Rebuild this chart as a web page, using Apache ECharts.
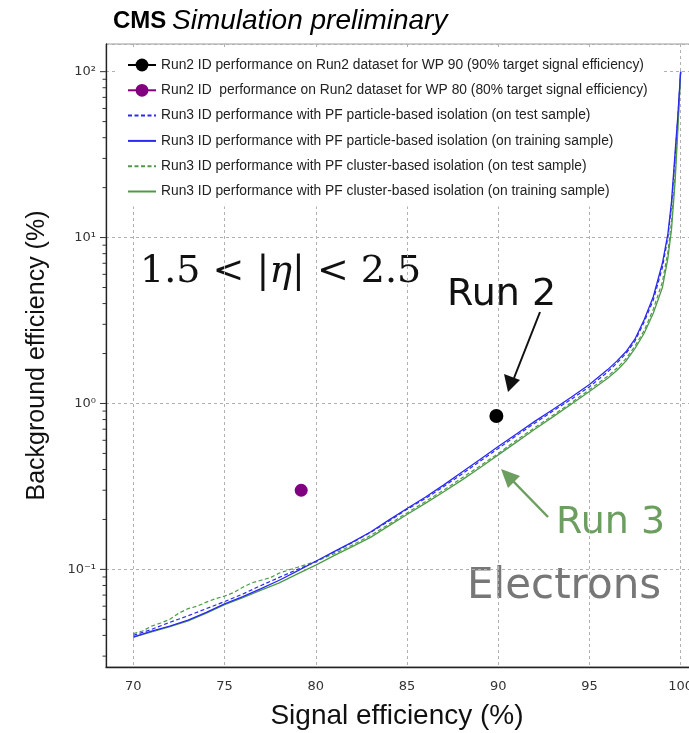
<!DOCTYPE html>
<html>
<head>
<meta charset="utf-8">
<script src="https://cdn.jsdelivr.net/npm/echarts@6/dist/echarts.min.js"></script>
<style>
  html, body { margin: 0; padding: 0; background: #fff; }
  #chart { width: 689px; height: 733px; }
</style>
</head>
<body>
<div id="chart"></div>
<script>
// Signal efficiency (%) sample points shared by the Run3 ROC curves
const sigEff = [70, 71, 72, 73, 74, 75, 76, 77, 78, 79, 80, 81, 82, 83, 84, 85, 86, 87, 88, 89, 90,
  91, 92, 93, 94, 95, 96, 96.5, 97, 97.5, 98, 98.5, 99, 99.3, 99.5, 99.7, 99.85, 100];

// Background efficiency (%) for each Run3 curve
const bkgParticleTraining = [0.039, 0.0425, 0.0455, 0.0495, 0.055, 0.062, 0.0685, 0.0765, 0.086, 0.098, 0.112,
  0.128, 0.146, 0.168, 0.198, 0.233, 0.272, 0.322, 0.385, 0.46, 0.55,
  0.655, 0.78, 0.92, 1.09, 1.30, 1.60, 1.80, 2.05, 2.45, 3.2, 4.4, 7.0, 10.5, 16.5, 33, 55, 100];
const bkgParticleTest = [0.040, 0.0435, 0.048, 0.0525, 0.058, 0.064, 0.071, 0.080, 0.0895, 0.100, 0.111,
  0.127, 0.145, 0.167, 0.195, 0.230, 0.267, 0.315, 0.375, 0.448, 0.535,
  0.64, 0.76, 0.90, 1.06, 1.26, 1.55, 1.75, 2.0, 2.38, 3.1, 4.2, 6.6, 10, 15.5, 31, 53, 100];
const bkgClusterTraining = [0.039, 0.042, 0.0452, 0.049, 0.0545, 0.0612, 0.0675, 0.075, 0.083, 0.094, 0.106,
  0.121, 0.137, 0.156, 0.183, 0.214, 0.250, 0.293, 0.345, 0.41, 0.49,
  0.585, 0.70, 0.83, 0.99, 1.18, 1.42, 1.58, 1.80, 2.15, 2.65, 3.5, 5.0, 7.5, 11.2, 22, 45, 100];

// The cluster-based test curve is sampled more finely at low efficiency
const sigEffClusterTest = [70, 70.5, 71, 71.5, 72, 72.5, 73, 73.5, 74, 74.5, 75, 75.5, 76, 76.5, 77, 77.5, 78, 78.5, 79, 79.5,
  80, 81, 82, 83, 84, 85, 86, 87, 88, 89, 90, 91, 92, 93, 94, 95, 96, 96.5, 97, 97.5, 98, 98.5, 99, 99.3, 99.5, 99.7, 99.85, 100];
const bkgClusterTest = [0.041, 0.0425, 0.0455, 0.0475, 0.050, 0.0545, 0.058, 0.060, 0.0635, 0.0665, 0.069, 0.0725, 0.078, 0.083, 0.086, 0.089, 0.095, 0.099, 0.103, 0.107,
  0.112, 0.124, 0.140, 0.160, 0.187, 0.219, 0.256, 0.300, 0.355, 0.42, 0.50, 0.60, 0.715, 0.85, 1.01, 1.21, 1.46, 1.63, 1.86, 2.22, 2.75, 3.7, 5.4, 8.2, 12.5, 25, 48, 100];

// Run2 working points: [signal efficiency, background efficiency]
const run2WP90 = [89.9, 0.84];
const run2WP80 = [79.2, 0.30];

// Legend labels
const labelWP90 = 'Run2 ID performance on Run2 dataset for WP 90 (90% target signal efficiency)';
const labelWP80 = 'Run2 ID  performance on Run2 dataset for WP 80 (80% target signal efficiency)';
const labelPartTest = 'Run3 ID performance with PF particle-based isolation (on test sample)';
const labelPartTrain = 'Run3 ID performance with PF particle-based isolation (on training sample)';
const labelClusTest = 'Run3 ID performance with PF cluster-based isolation (on test sample)';
const labelClusTrain = 'Run3 ID performance with PF cluster-based isolation (on training sample)';

// Axis ranges
const xMin = 68.5, xMax = 101.5;
const yMin = 0.0258, yMax = 146.8;

const BLUE = '#2a2af0';
const GREEN = '#4f9a48';
const RUN3_TEXT = '#6b9e5f';

function zip(xs, ys) { return xs.map((x, i) => [x, ys[i]]); }

const SUP = { '-': '\u207B', '0': '\u2070', '1': '\u00B9', '2': '\u00B2', '3': '\u00B3' };
function powerLabel(v) {
  const l = Math.log10(v);
  const e = Math.round(l);
  if (Math.abs(l - e) > 1e-6) return '';
  return '10' + String(e).split('').map(c => SUP[c]).join('');
}

// Tick marks on the log axis: decades (long) and 2..9 subdivisions (short)
const yTickMarks = [];
for (let k = -2; k <= 2; k++) {
  for (let m = 1; m <= 9; m++) {
    const v = m * Math.pow(10, k);
    if (v >= yMin && v <= yMax) yTickMarks.push([xMin, v, m === 1 ? 6 : 3.5]);
  }
}

const chart = echarts.init(document.getElementById('chart'), null, { renderer: 'canvas' });

const lineOnlyLegend = { opacity: 0, borderWidth: 0 };

const option = {
  animation: false,
  backgroundColor: '#fff',
  grid: {
    left: 106, top: 44, width: 602, height: 623,
    containLabel: false, outerBoundsMode: 'none',
    show: true, borderColor: '#9a9a9a', borderWidth: 1, backgroundColor: 'transparent'
  },
  xAxis: {
    type: 'value', min: xMin, max: xMax, splitNumber: 7,
    axisLine: { show: true, lineStyle: { color: '#222', width: 1.3 } },
    axisTick: { show: false },
    axisLabel: {
      margin: 13, fontSize: 13, fontFamily: 'DejaVu Sans', color: '#333',
      showMinLabel: false, showMaxLabel: false,
      formatter: v => (Math.abs(v % 5) < 1e-9 ? String(v) : '')
    },
    splitLine: { show: true, lineStyle: { color: '#b0b0b0', type: [3, 3], width: 1 } },
    name: 'Signal efficiency (%)', nameLocation: 'middle', nameGap: 35,
    nameTextStyle: { fontSize: 28, fontFamily: 'Liberation Sans', color: '#111', padding: [0, 20, 0, 0] }
  },
  yAxis: {
    type: 'log', logBase: 10, min: yMin, max: yMax,
    axisLine: { show: true, lineStyle: { color: '#222', width: 1.3 } },
    axisTick: { show: false },
    minorTick: { show: false },
    axisLabel: {
      margin: 10, fontSize: 13, fontFamily: 'DejaVu Sans', color: '#333',
      formatter: powerLabel
    },
    splitLine: { show: true, lineStyle: { color: '#b0b0b0', type: [3, 3], width: 1 } },
    name: 'Background efficiency (%)', nameLocation: 'middle', nameGap: 56, nameRotate: 90,
    nameTextStyle: { fontSize: 25, fontFamily: 'Liberation Sans', color: '#111' }
  },
  legend: {
    orient: 'vertical', left: 117, top: 50,
    padding: [8, 16, 8, 10],
    backgroundColor: '#fff',
    itemWidth: 28, itemHeight: 16, itemGap: 11.3,
    textStyle: { fontSize: 13.8, fontFamily: 'Liberation Sans', color: '#222' },
    data: [
      { name: labelWP90 },
      { name: labelWP80 },
      { name: labelPartTest, itemStyle: lineOnlyLegend },
      { name: labelPartTrain, itemStyle: lineOnlyLegend },
      { name: labelClusTest, itemStyle: lineOnlyLegend },
      { name: labelClusTrain, itemStyle: lineOnlyLegend }
    ]
  },
  series: [
    {
      name: labelPartTest, type: 'line', data: zip(sigEff, bkgParticleTest),
      showSymbol: false, symbol: 'none', z: 3,
      lineStyle: { color: BLUE, width: 1.2, type: [4, 2.5] }, itemStyle: { color: BLUE }
    },
    {
      name: labelPartTrain, type: 'line', data: zip(sigEff, bkgParticleTraining),
      showSymbol: false, symbol: 'none', z: 4,
      lineStyle: { color: BLUE, width: 1.3 }, itemStyle: { color: BLUE }
    },
    {
      name: labelClusTest, type: 'line', data: zip(sigEffClusterTest, bkgClusterTest),
      showSymbol: false, symbol: 'none', z: 3,
      lineStyle: { color: GREEN, width: 1.2, type: [4, 2.5] }, itemStyle: { color: GREEN }
    },
    {
      name: labelClusTrain, type: 'line', data: zip(sigEff, bkgClusterTraining),
      showSymbol: false, symbol: 'none', z: 3,
      lineStyle: { color: GREEN, width: 1.3 }, itemStyle: { color: GREEN }
    },
    {
      name: labelWP90, type: 'line', data: [run2WP90],
      symbol: 'circle', symbolSize: 14, showSymbol: true, z: 6,
      lineStyle: { color: '#000', width: 2 }, itemStyle: { color: '#000' }
    },
    {
      name: labelWP80, type: 'line', data: [run2WP80],
      symbol: 'circle', symbolSize: 13, showSymbol: true, z: 6,
      lineStyle: { color: '#800080', width: 2 }, itemStyle: { color: '#800080' }
    },
    {
      // y-axis tick marks placed through the axis scale
      type: 'custom', silent: true, clip: false, z: 7,
      data: yTickMarks,
      encode: { x: 0, y: 1 },
      renderItem: function (params, api) {
        const p = api.coord([api.value(0), api.value(1)]);
        const len = api.value(2);
        return {
          type: 'line',
          shape: { x1: p[0] - len, y1: p[1], x2: p[0], y2: p[1] },
          style: { stroke: '#333', lineWidth: 1 }
        };
      }
    }
  ],
  graphic: [
    {
      type: 'text', left: 113, top: 9,
      style: { text: 'CMS', fontSize: 24, fontWeight: 'bold', fontFamily: 'Liberation Sans', fill: '#000' }
    },
    {
      type: 'text', left: 172, top: 7,
      style: { text: 'Simulation preliminary', fontSize: 28, fontStyle: 'italic', fontFamily: 'Liberation Sans', fill: '#000' }
    },
    {
      type: 'text', left: 140, top: 253,
      style: {
        text: '{n|1.5 < |}{e|\u03B7}{n|| < 2.5}',
        rich: {
          n: { fontSize: 38, fontFamily: 'DejaVu Serif', fill: '#111' },
          e: { fontSize: 38, fontFamily: 'DejaVu Serif', fontStyle: 'italic', fill: '#111' }
        }
      }
    },
    {
      type: 'text', left: 447, top: 276,
      style: { text: 'Run 2', fontSize: 38, fontFamily: 'DejaVu Sans', fill: '#111' }
    },
    {
      type: 'line', shape: { x1: 540, y1: 312, x2: 514, y2: 378 },
      style: { stroke: '#111', lineWidth: 2 }
    },
    {
      type: 'polygon', shape: { points: [[508, 392], [504, 374], [520, 380]] },
      style: { fill: '#111' }
    },
    {
      type: 'text', left: 556, top: 504,
      style: { text: 'Run 3', fontSize: 38, fontFamily: 'DejaVu Sans', fill: RUN3_TEXT }
    },
    {
      type: 'line', shape: { x1: 548, y1: 517, x2: 512, y2: 480 },
      style: { stroke: RUN3_TEXT, lineWidth: 2.5 }
    },
    {
      type: 'polygon', shape: { points: [[501, 469], [520, 476], [508, 488]] },
      style: { fill: RUN3_TEXT }
    },
    {
      type: 'text', left: 467, top: 566,
      style: { text: 'Electrons', fontSize: 42, fontFamily: 'DejaVu Sans', fill: '#777' }
    }
  ]
};

chart.setOption(option);
</script>
</body>
</html>
